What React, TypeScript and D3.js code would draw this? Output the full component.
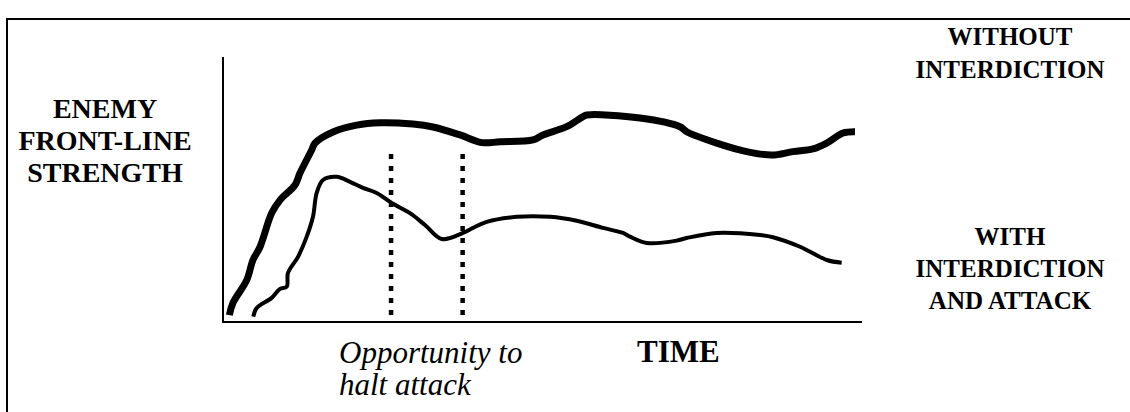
import React from "react";
import * as d3 from "d3";

// Time (0-100) and relative enemy strength (0-100)
const withoutT = [0.99, 1.56, 3.71, 4.69, 5.79, 7.62, 8.92, 11.27, 12.05, 13.88, 14.4, 17.21, 20.92, 24.57, 29.73, 32.86, 37.09, 40.48, 43.35, 48.51, 50.08, 53.79, 56.34, 56.92, 65.26, 71.52, 72.57, 77.26, 81.96, 85.87, 89.2, 92.33, 94.48, 97.03, 98.9];
const withoutV = [2.6, 7.2, 15.8, 23.4, 28.3, 41.1, 46.0, 51.7, 56.2, 64.9, 67.5, 71.7, 74.3, 75.2, 74.7, 73.6, 70.6, 67.7, 68.0, 68.7, 70.6, 73.7, 77.5, 78.1, 77.0, 73.7, 71.8, 67.5, 64.3, 63.0, 64.3, 65.3, 67.5, 71.3, 71.8];

const withT = [4.74, 5.27, 7.62, 8.92, 9.97, 10.17, 11.74, 13.1, 14.08, 14.66, 15.65, 17.79, 19.87, 21.91, 24.05, 26.4, 29.26, 31.61, 34.23, 37.56, 39.12, 41.27, 45.96, 51.17, 55.35, 59.47, 62.6, 63.69, 66.31, 71.0, 72.57, 77.26, 84.04, 86.07, 90.3, 94.48, 96.82];
const withV = [2.0, 5.3, 9.1, 12.5, 13.3, 18.5, 24.6, 32.2, 39.7, 48.7, 53.6, 54.8, 52.9, 50.6, 48.7, 44.9, 41.1, 36.6, 31.3, 33.6, 35.5, 37.8, 39.7, 39.7, 38.2, 35.5, 33.6, 32.2, 29.8, 30.7, 31.7, 33.6, 32.8, 32.0, 28.4, 23.4, 22.4];

const haltWindow = [26.3, 37.5];
const haltRange = [1.5, 63.4];

const yLabel = ["ENEMY", "FRONT-LINE", "STRENGTH"];
const withoutLabel = ["WITHOUT", "INTERDICTION"];
const withLabel = ["WITH", "INTERDICTION", "AND ATTACK"];
const haltLabel = ["Opportunity to", "halt attack"];
const xLabel = "TIME";

const W = 1130;
const H = 412;
const serif = "Liberation Serif, DejaVu Serif, serif";

export default function App() {
  const x = d3.scaleLinear().domain([0, 100]).range([223, 862]);
  const y = d3.scaleLinear().domain([0, 100]).range([322, 57]);

  const line = d3
    .line<[number, number]>()
    .x((d) => x(d[0]))
    .y((d) => y(d[1]))
    .curve(d3.curveCatmullRom.alpha(0.5));

  const withoutPts = withoutT.map((t, i) => [t, withoutV[i]] as [number, number]);
  const withPts = withT.map((t, i) => [t, withV[i]] as [number, number]);

  const boldL = { fontFamily: serif, fontWeight: 700 as const, fontSize: 28 };
  const boldR = { fontFamily: serif, fontWeight: 700 as const, fontSize: 25 };

  return (
    <svg
      width={W}
      height={H}
      style={{ position: "absolute", left: 0, top: 0, background: "#fff", fontFamily: serif }}
    >
      {/* frame */}
      <path d={`M7,${H + 5} L7,19 L${W + 5},19`} fill="none" stroke="#000" strokeWidth={2} />

      {/* axes */}
      <line x1={x(0)} x2={x(0)} y1={y(100)} y2={y(0)} stroke="#000" strokeWidth={2} />
      <line x1={x(0) - 1} x2={x(100)} y1={y(0)} y2={y(0)} stroke="#000" strokeWidth={2} />

      {/* halt window dotted lines */}
      {haltWindow.map((t, i) => (
        <line
          key={i}
          x1={x(t)}
          x2={x(t)}
          y1={y(haltRange[1])}
          y2={y(haltRange[0])}
          stroke="#000"
          strokeWidth={4.5}
          strokeDasharray="5 7"
        />
      ))}

      {/* series */}
      <path d={line(withoutPts) || ""} fill="none" stroke="#000" strokeWidth={7} strokeLinejoin="round" />
      <path d={line(withPts) || ""} fill="none" stroke="#000" strokeWidth={4} strokeLinejoin="round" />

      {/* labels */}
      <text style={boldL} textAnchor="middle">
        {yLabel.map((s, i) => (
          <tspan key={i} x={105} y={118 + i * 32}>
            {s}
          </tspan>
        ))}
      </text>
      <text style={boldR} textAnchor="middle">
        {withoutLabel.map((s, i) => (
          <tspan key={i} x={1010} y={45 + i * 33}>
            {s}
          </tspan>
        ))}
      </text>
      <text style={boldR} textAnchor="middle">
        {withLabel.map((s, i) => (
          <tspan key={i} x={1010} y={245 + i * 32}>
            {s}
          </tspan>
        ))}
      </text>
      <text style={{ fontFamily: serif, fontStyle: "italic", fontSize: 31 }}>
        {haltLabel.map((s, i) => (
          <tspan key={i} x={339} y={363 + i * 32}>
            {s}
          </tspan>
        ))}
      </text>
      <text style={{ fontFamily: serif, fontWeight: 700, fontSize: 31 }} x={637} y={362}>
        {xLabel}
      </text>
    </svg>
  );
}
